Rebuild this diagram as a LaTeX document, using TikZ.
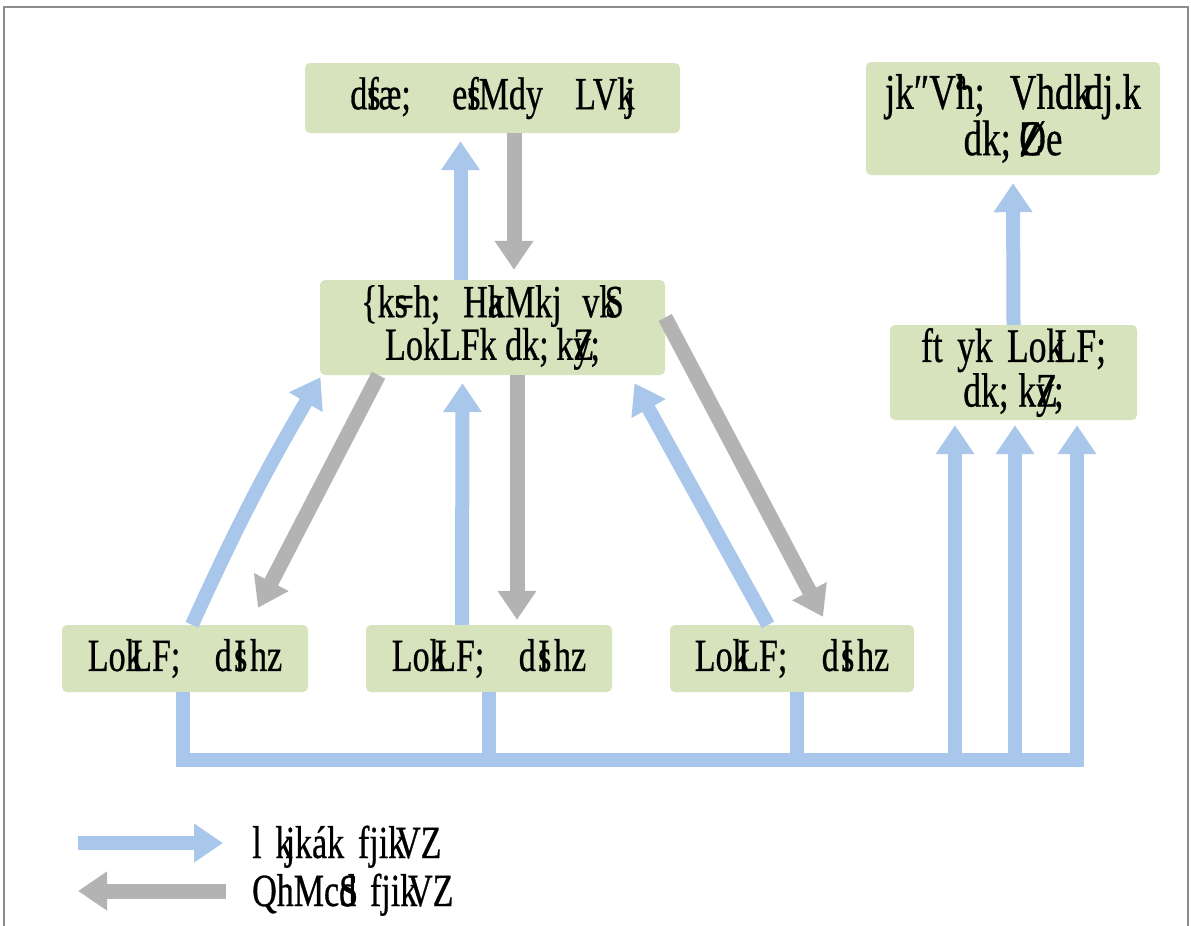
\documentclass[tikz,border=0pt]{standalone}
\usepackage{fontspec}
\setmainfont[FakeStretch=0.74,FakeBold=0.6]{Liberation Serif}
\usetikzlibrary{arrows.meta}
\newcommand\olap[2]{\rlap{#1}#2}
\newcommand\gap[1]{\hspace{#1em}}
\definecolor{boxgreen}{HTML}{D6E3BC}
\definecolor{upblue}{HTML}{A9C7EA}
\definecolor{downgray}{HTML}{B3B3B3}
\definecolor{framegray}{HTML}{8C8C8C}
\tikzset{
  x=1pt, y=-1pt,
  box/.style={fill=boxgreen, rounded corners=5pt, inner sep=0pt, align=center,
    font=\fontsize{46}{36}\selectfont},
  upflow/.style={draw=upblue, line width=14pt,
    -{Triangle[length=29pt,width=37pt]}},
  downflow/.style={draw=downgray, line width=15pt,
    -{Triangle[length=29pt,width=37pt]}},
  busline/.style={draw=upblue, line width=14pt, line join=miter},
  legendtext/.style={anchor=base west, inner sep=0pt, font=\fontsize{46}{36}\selectfont}
}
\begin{document}
\begin{tikzpicture}
\useasboundingbox (0,0) rectangle (1191,926);
\fill[white] (0,0) rectangle (1191,926);
% frame
\draw[framegray, line width=1.2pt] (4,926) -- (4,7) -- (1188,7) -- (1188,926);

% boxes
\node[box, minimum width=375pt, minimum height=70pt] (cms) at (492.5,98)
  {d\olap{s}{f}æ;\gap{.9}e\olap{s}{f}Mdy\gap{.7}LVk\kern-.2em j};
\node[box, minimum width=294pt, minimum height=113pt, font=\fontsize{50}{38}\selectfont]
  (nat) at (1013,118.5)
  {jk″V\olap{ª}{h};\gap{.5}Vhdk\kern-.15em dj.k\\dk;\,\olap{Z}{Ø}e};
\node[box, minimum width=345pt, minimum height=95pt] (state) at (492.5,327.5)
  {\{k\olap{s}{=}h;\gap{.5}H\olap{a}{k}Mkj\gap{.45}vk\kern-.25em S\\LokLFk dk;\,k\olap{Z}{y};};
\node[box, minimum width=247pt, minimum height=95pt, font=\fontsize{48}{36}\selectfont]
  (dist) at (1013.5,372.5)
  {ft\gap{.3}yk\gap{.3}Lok\kern-.2em LF;\\dk;\gap{.2}k\olap{Z}{y};};
\node[box, minimum width=246pt, minimum height=67pt] (hc1) at (185,658.5)
  {Lok\kern-.25em LF;\gap{.75}d\kern.05em\olap{s}{I}\kern.1em hz};
\node[box, minimum width=246pt, minimum height=67pt] (hc2) at (489,658.5)
  {Lok\kern-.25em LF;\gap{.75}d\kern.05em\olap{s}{I}\kern.1em hz};
\node[box, minimum width=244pt, minimum height=67pt] (hc3) at (792,658.5)
  {Lok\kern-.25em LF;\gap{.75}d\kern.05em\olap{s}{I}\kern.1em hz};

% state office <-> central store
\draw[upflow] ([xshift=-32pt]state.north) -- ([xshift=-32pt,yshift=-8pt]cms.south);
\draw[downflow] ([xshift=21.5pt]cms.south) -- ([xshift=21.5pt,yshift=10pt]state.north);
% district office -> national programme
\draw[upflow] (dist.north) -- ([yshift=-8pt]nat.south);

% health centres <-> state office
\draw[upflow] ([xshift=7pt]hc1.north) to[bend left=3] ([xshift=-172pt,yshift=-2pt]state.south);
\draw[downflow] ([xshift=-114pt]state.south) -- ([xshift=73pt,yshift=17pt]hc1.north);
\draw[upflow] ([xshift=-27pt]hc2.north) -- ([xshift=-30pt,yshift=-8pt]state.south);
\draw[downflow] ([xshift=24.5pt]state.south) -- ([xshift=28pt,yshift=5pt]hc2.north);
\draw[upflow] ([xshift=-24pt]hc3.north) -- ([xshift=142pt,yshift=-8pt]state.south);
\draw[downflow] ([yshift=10pt]state.east) -- ([xshift=31pt,yshift=8pt]hc3.north);

% reporting bus to district office
\coordinate (busL) at (183,760);
\coordinate (busR) at (1077,760);
\draw[busline] (hc1.south -| busL) -- (busL) -- ([xshift=7pt]busR);
\draw[busline] (hc2.south) -- (hc2.south |- busL);
\draw[busline] ([xshift=5pt]hc3.south) -- ([xshift=5pt]hc3.south |- busL);
\draw[upflow] ([yshift=-7pt]busR) -- ([xshift=63.5pt,yshift=-5pt]dist.south);
\draw[upflow] ([xshift=-62pt,yshift=-7pt]busR) -- ([xshift=1.5pt,yshift=-5pt]dist.south);
\draw[upflow] ([xshift=-122pt,yshift=-7pt]busR) -- ([xshift=-58.5pt,yshift=-5pt]dist.south);

% legend
\coordinate (l1a) at (78,843);
\coordinate (l1b) at (223,843);
\coordinate (l2a) at (226,891);
\coordinate (l2b) at (78,891);
\draw[upflow] (l1a) -- (l1b);
\draw[downflow] (l2a) -- (l2b);
\node[legendtext] (lg1) at (252,858) {l\gap{.3}k\kern-.15em jk\'ak\gap{.3}fjik\kern-.2em VZ};
\node[legendtext] (lg2) at (252,906) {QhMc\olap{S}{d}\gap{.3}fjik\kern-.2em VZ};
\end{tikzpicture}
\end{document}
